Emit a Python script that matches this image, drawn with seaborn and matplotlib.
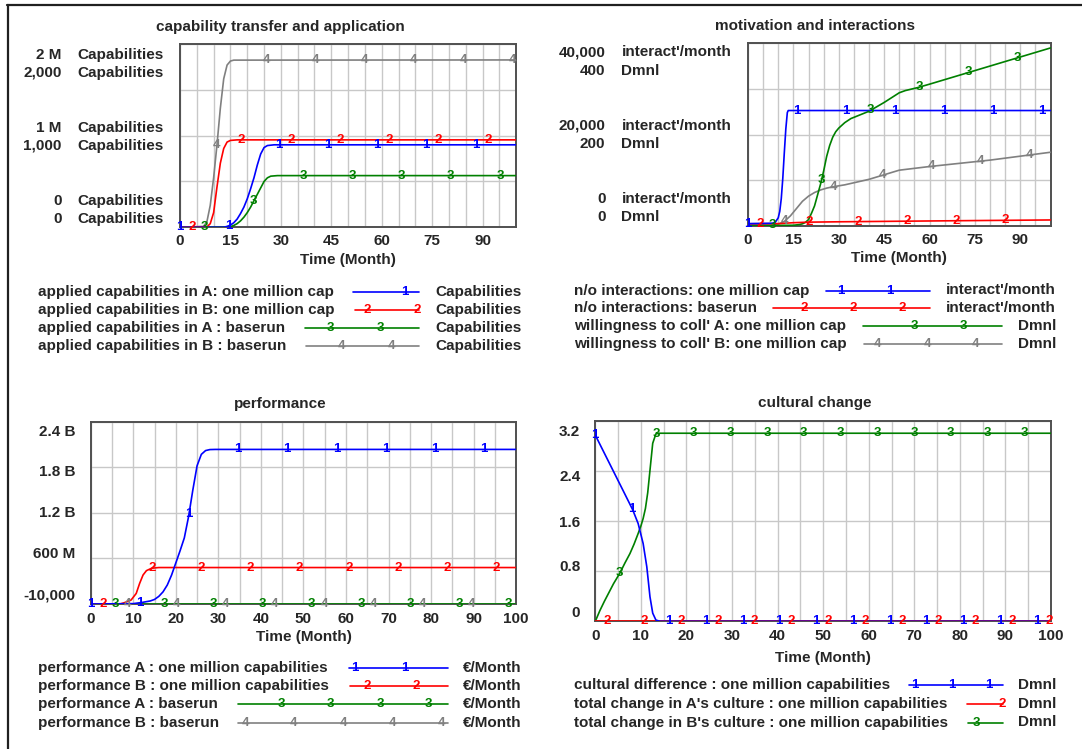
import numpy as np
import pandas as pd
import matplotlib
matplotlib.use("Agg")
import matplotlib.pyplot as plt
from matplotlib.lines import Line2D
import seaborn as sns

# ---------------------------------------------------------------- data
ticks_15 = [0, 15, 30, 45, 60, 75, 90]
ticks_10 = [0, 10, 20, 30, 40, 50, 60, 70, 80, 90, 100]

# panel 1 : capability transfer and application (Capabilities)
cap_A_million_t = [0, 13, 14, 15, 16, 17, 18, 19, 20, 21, 22, 23, 24, 25, 26, 28, 100]
cap_A_million_v = [0, 0, 10000, 24000, 50000, 90000, 150000, 220000, 310000, 420000,
                   540000, 680000, 800000, 870000, 892000, 900000, 900000]
cap_B_million_t = [0, 8, 9, 10, 11, 12, 13, 14, 15, 17, 100]
cap_B_million_v = [0, 4000, 40000, 160000, 440000, 700000, 860000, 930000, 948000, 954000, 954000]
cap_A_base_t = [0, 14, 15, 16, 17, 18, 19, 20, 21, 22, 23, 24, 25, 26, 27, 29, 100]
cap_A_base_v = [0, 0, 6, 20, 40, 70, 110, 160, 220, 290, 360, 430, 500, 540, 558, 564, 564]
cap_B_base_t = [0, 7, 8, 9, 10, 11, 12, 13, 14, 15, 16, 100]
cap_B_base_v = [0, 10, 60, 240, 540, 900, 1300, 1620, 1770, 1814, 1824, 1826]
p1_names = ["applied capabilities in A: one million cap",
            "applied capabilities in B: one million cap",
            "applied capabilities in A : baserun",
            "applied capabilities in B : baserun"]
p1_units = ["Capabilities"] * 4
p1_scale_labels = [("2 M", "Capabilities"), ("2,000", "Capabilities"),
                   ("1 M", "Capabilities"), ("1,000", "Capabilities"),
                   ("0", "Capabilities"), ("0", "Capabilities")]
p1_scale_max = [2_000_000, 2_000_000, 2000, 2000]

# panel 2 : motivation and interactions
inter_million_t = [0, 8, 9, 10, 10.5, 11, 11.5, 12, 12.5, 13, 13.3, 100]
inter_million_v = [520, 600, 800, 1800, 3200, 6000, 10400, 16000, 21200, 24800, 25240, 25240]
inter_base_t = [0, 10, 15, 20, 30, 50, 70, 100]
inter_base_v = [480, 520, 720, 840, 920, 1040, 1160, 1320]
will_A_t = [0, 15, 17, 18, 19, 20, 21, 22, 23, 24, 25, 26, 27, 28, 29, 30, 32, 34, 37,
            40, 45, 50, 52, 56, 60, 100]
will_A_v = [1.2, 1.6, 3.2, 4.8, 8, 14, 28, 44, 68, 92, 120, 152, 176, 194, 206, 214, 226,
            234.8, 242.8, 250.8, 270, 291.2, 296, 302.4, 310, 389.2]
will_B_t = [0, 8, 10, 12, 14, 16, 18, 20, 22, 24, 26, 28, 32, 40, 45, 50, 55, 60, 80, 100]
will_B_v = [1.2, 1.6, 4, 10, 22, 38, 54, 65.2, 73.2, 78.8, 82.8, 85.6, 90, 102, 112, 122,
            126, 130, 144, 161.2]
p2_names = ["n/o interactions: one million cap",
            "n/o interactions: baserun",
            "willingness to coll' A: one million cap",
            "willingness to coll' B: one million cap"]
p2_units = ["interact'/month", "interact'/month", "Dmnl", "Dmnl"]
p2_scale_labels = [("40,000", "interact'/month"), ("400", "Dmnl"),
                   ("20,000", "interact'/month"), ("200", "Dmnl"),
                   ("0", "interact'/month"), ("0", "Dmnl")]
p2_scale_max = [40000, 40000, 400, 400]

# panel 3 : performance (EUR/Month)
perf_A_million_t = [0, 10, 12, 14, 15, 16, 17, 18, 19, 20, 21, 22, 23, 24, 25, 26, 27, 28,
                    29.3, 100]
perf_A_million_v = [0, 4.8e6, 2.0e7, 4.0e7, 6.0e7, 1.0e8, 1.6e8, 2.5e8, 3.8e8, 5.4e8,
                    7.0e8, 8.7e8, 1.15e9, 1.5e9, 1.82e9, 1.97e9, 2.02e9, 2.033e9, 2.035e9,
                    2.035e9]
perf_B_million_t = [0, 7, 7.9, 9.5, 10.7, 11.5, 12.3, 13.1, 14.3, 16, 100]
perf_B_million_v = [0, 2.4e6, 1.68e7, 5.28e7, 1.392e8, 2.712e8, 3.816e8, 4.392e8, 4.704e8,
                    4.8e8, 4.8e8]
perf_A_base_t = [0, 100]
perf_A_base_v = [0, 0]
perf_B_base_t = [0, 100]
perf_B_base_v = [0, 0]
p3_names = ["performance A : one million capabilities",
            "performance B : one million capabilities",
            "performance A : baserun",
            "performance B : baserun"]
p3_units = ["€/Month"] * 4
p3_tick_labels = ["2.4 B", "1.8 B", "1.2 B", "600 M", "-10,000"]

# panel 4 : cultural change (Dmnl)
cult_diff_t = [0, 2, 4, 6, 8.2, 9.4, 10.5, 11.3, 12, 12.6, 13.3, 14.2, 100]
cult_diff_v = [2.97, 2.68, 2.39, 2.10, 1.78, 1.56, 1.24, 0.87, 0.39, 0.13, 0.02, 0.0, 0.0]
change_A_t = [0, 100]
change_A_v = [0, 0]
change_B_t = [0, 1, 2, 3, 4, 5.4, 6.5, 7.6, 8.5, 9.4, 10, 10.5, 11, 11.5, 12, 12.6, 13.3, 14, 100]
change_B_v = [0, 0.17, 0.32, 0.46, 0.6, 0.77, 0.93, 1.08, 1.23, 1.40, 1.52, 1.64, 1.8, 2.05,
              2.41, 2.84, 2.99, 3.0, 3.0]
p4_names = ["cultural difference : one million capabilities",
            "total change in A's culture : one million capabilities",
            "total change in B's culture : one million capabilities"]
p4_units = ["Dmnl"] * 3
p4_tick_labels = ["3.2", "2.4", "1.6", "0.8", "0"]

# ---------------------------------------------------------------- style
W, H = 1082, 749
sns.set_style("white")
plt.rcParams["font.family"] = ["Liberation Sans", "DejaVu Sans"]
plt.rcParams["font.weight"] = "bold"
FS = 11
MFS = 9.5
COLORS = ["#0000ff", "#ff0000", "#008000", "#808080"]
GRID = "#c8c8c8"
FRAME = "#505050"

fig = plt.figure(figsize=(W / 100, H / 100), dpi=100)
fig.patch.set_facecolor("white")


def X(px):
    return px / W


def Y(py):
    return 1 - py / H


def make_ax(l, t, r, b):
    return fig.add_axes([X(l), Y(b), (r - l) / W, (b - t) / H])


def style_ax(ax, xlabels, ylim, yticks, pad=4.9, labelpad=3.2):
    ax.set_xlim(0, 100)
    ax.set_ylim(*ylim)
    ax.set_xticks(np.arange(0, 101, 5))
    ax.set_xticklabels([str(v) if v in xlabels else "" for v in range(0, 101, 5)])
    ax.set_yticks(yticks)
    ax.set_yticklabels([])
    ax.grid(True, color=GRID, lw=1.0)
    ax.set_axisbelow(True)
    ax.tick_params(length=0, pad=pad, labelsize=FS)
    for s in ax.spines.values():
        s.set_visible(True)
        s.set_color(FRAME)
        s.set_linewidth(1.4)
    ax.set_xlabel("Time (Month)", fontsize=FS, fontweight="bold", labelpad=labelpad)
    ax.set_ylabel("")


def draw_series(ax, series, interval):
    n = len(series)
    for k, (t, v) in enumerate(series):
        df = pd.DataFrame({"t": t, "y": v})
        sns.lineplot(data=df, x="t", y="y", ax=ax, color=COLORS[k], lw=1.2,
                     estimator=None, sort=False, legend=False, zorder=10 - k)
        pos = np.arange(k * interval / n, 100.01, interval)
        yy = np.interp(pos, t, v)
        for p, q in zip(pos, yy):
            ax.text(p, q, str(k + 1), color=COLORS[k], fontsize=MFS, fontweight="bold",
                    ha="center", va="center", zorder=20 - k, clip_on=False)


def legend(rows_y, text_x, unit_right, lines, markers, names, units):
    for k, y in enumerate(rows_y):
        fig.text(X(text_x), Y(y), names[k], ha="left", va="center", fontsize=FS,
                 fontweight="bold")
        fig.text(X(unit_right), Y(y), units[k], ha="right", va="center", fontsize=FS,
                 fontweight="bold")
        x0, x1 = lines[k]
        fig.add_artist(Line2D([X(x0), X(x1)], [Y(y), Y(y)], transform=fig.transFigure,
                              color=COLORS[k], lw=1.2))
        for mx in markers[k]:
            fig.text(X(mx), Y(y), str(k + 1), color=COLORS[k], ha="center", va="center",
                     fontsize=MFS, fontweight="bold")


def scale_text(num_right, unit_left, ys, labels):
    for y, (num, unit) in zip(ys, labels):
        fig.text(X(num_right), Y(y), num, ha="right", va="center", fontsize=FS,
                 fontweight="bold")
        if unit:
            fig.text(X(unit_left), Y(y), unit, ha="left", va="center", fontsize=FS,
                     fontweight="bold")


# ---------------------------------------------------------------- panel 1
ax1 = make_ax(180, 44, 516.2, 227.3)
p1 = [(cap_A_million_t, np.array(cap_A_million_v) / p1_scale_max[0]),
      (cap_B_million_t, np.array(cap_B_million_v) / p1_scale_max[1]),
      (cap_A_base_t, np.array(cap_A_base_v) / p1_scale_max[2]),
      (cap_B_base_t, np.array(cap_B_base_v) / p1_scale_max[3])]
draw_series(ax1, p1, 14.65)
style_ax(ax1, ticks_15, (0, 1), [0, 0.25, 0.5, 0.75, 1])
fig.text(X(280), Y(26.7), "capability transfer and application", ha="center", va="center",
         fontsize=FS, fontweight="bold")
scale_text(61.4, 77.2, [55, 72.7, 127.7, 145.7, 200.7, 218.7], p1_scale_labels)
legend([292.3, 310, 327.7, 346], 38, 521.7,
       [(353.4, 419), (355, 419), (305, 419), (306, 419)],
       [[405], [367, 417], [330, 380], [342, 392]], p1_names, p1_units)

# ---------------------------------------------------------------- panel 2
ax2 = make_ax(748, 43, 1050.5, 226)
p2 = [(inter_million_t, np.array(inter_million_v) / p2_scale_max[0]),
      (inter_base_t, np.array(inter_base_v) / p2_scale_max[1]),
      (will_A_t, np.array(will_A_v) / p2_scale_max[2]),
      (will_B_t, np.array(will_B_v) / p2_scale_max[3])]
draw_series(ax2, p2, 16.2)
style_ax(ax2, ticks_15, (0, 1), [0, 0.25, 0.5, 0.75, 1])
fig.text(X(814.6), Y(25.5), "motivation and interactions", ha="center", va="center",
         fontsize=FS, fontweight="bold")
scale_text(605.5, 621.4, [52.3, 70.7, 125.7, 144, 198.7, 216.7], p2_scale_labels)
legend([290.5, 308.3, 326.3, 344.3], 573.8, 1056.2,
       [(826, 929.7), (773.4, 929.7), (863.4, 1002), (864, 1002)],
       [[840.7, 890], [803.8, 852.8, 902], [914, 963.4], [878, 927, 976]],
       p2_names, p2_units)

# ---------------------------------------------------------------- panel 3
ax3 = make_ax(90.7, 421.7, 516.2, 604)
p3 = [(perf_A_million_t, perf_A_million_v), (perf_B_million_t, perf_B_million_v),
      (perf_A_base_t, perf_A_base_v), (perf_B_base_t, perf_B_base_v)]
draw_series(ax3, p3, 11.55)
style_ax(ax3, ticks_10, (-1e4, 2.4e9), np.linspace(-1e4, 2.4e9, 5), pad=5.5, labelpad=3.5)
fig.text(X(279.8), Y(404), "performance", ha="center", va="center", fontsize=FS,
         fontweight="bold")
scale_text(75.2, 0, [431.7, 471.7, 513.3, 554, 596], [(s, "") for s in p3_tick_labels])
legend([667.7, 686, 704.3, 722.7], 38, 521.7,
       [(349, 448), (350, 448), (238, 448), (238, 448)],
       [[355, 404.5], [367, 416.6], [281, 330, 380, 428.6], [245, 294, 343, 392.4, 441.4]],
       p3_names, p3_units)

# ---------------------------------------------------------------- panel 4
ax4 = make_ax(595.3, 420.7, 1051, 621.3)
p4 = [(cult_diff_t, cult_diff_v), (change_A_t, change_A_v), (change_B_t, change_B_v)]
draw_series(ax4, p4, 8.07)
style_ax(ax4, ticks_10, (0, 3.2), [0, 0.8, 1.6, 2.4, 3.2], pad=5.5, labelpad=5.5)
fig.text(X(815), Y(403.3), "cultural change", ha="center", va="center", fontsize=FS,
         fontweight="bold")
scale_text(580.3, 0, [431.7, 476.7, 522.7, 566.7, 613.3], [(s, "") for s in p4_tick_labels])
legend([685.3, 704.3, 722.5], 573.8, 1056.5,
       [(909, 1003), (967, 1003), (967.7, 1003)],
       [[915, 952, 989], [1001.7], [976.7]], p4_names, p4_units)

# ---------------------------------------------------------------- outer frame
fig.add_artist(Line2D([X(6.5), 1], [Y(5), Y(5)], transform=fig.transFigure,
                      color="#202020", lw=1.6))
fig.add_artist(Line2D([X(7.5), X(7.5)], [0, Y(5)], transform=fig.transFigure,
                      color="#202020", lw=1.6))

fig.savefig("out.png", dpi=100, facecolor="white")
